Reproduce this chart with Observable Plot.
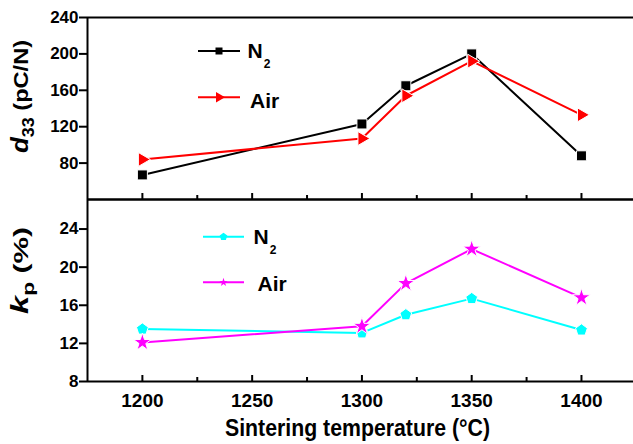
<!DOCTYPE html>
<html><head><meta charset="utf-8">
<script src="https://cdn.jsdelivr.net/npm/d3@7"></script>
<script src="https://cdn.jsdelivr.net/npm/@observablehq/plot@0.6"></script>
<style>
html,body{margin:0;padding:0;background:#fff;}
#chart{position:relative;width:633px;height:444px;overflow:hidden;background:#fff;}
#chart svg{position:absolute;left:0;overflow:visible;}
</style></head><body><div id="chart"></div>
<script>
const temps = [1200, 1300, 1320, 1350, 1400];
const d33N2 = [67, 123, 165, 200, 88];
const d33Air = [84, 107, 154, 192, 133];
const kpN2 = [13.5, 13.1, 15.0, 16.7, 13.4];
const kpAir = [12.1, 13.8, 18.3, 21.9, 16.8];
const xTicks = [1200, 1250, 1300, 1350, 1400];
const xMinorTicks = [1225, 1275, 1325, 1375];
const d33Ticks = [80, 120, 160, 200, 240];
const kpTicks = [8, 12, 16, 20, 24];

const W = 633, ML = 87;
const font = "'Liberation Sans', Arial, sans-serif";
const xDomain = [1175, 1423.7];

const triangleRight = {draw(ctx, size){ const s = Math.sqrt(size); ctx.moveTo(2*s/3,0); ctx.lineTo(-s/3,-0.58*s); ctx.lineTo(-s/3,0.58*s); ctx.closePath(); }};
const pentagon = {draw(ctx, size){ const R = Math.sqrt(size)/2; for (let i=0;i<5;i++){ const a=-Math.PI/2+i*2*Math.PI/5; const x=R*Math.cos(a), y=R*Math.sin(a); if(i) ctx.lineTo(x,y); else ctx.moveTo(x,y);} ctx.closePath(); }};

function panel(o) {
  const rows = (vals, s) => temps.map((t, i) => ({t, v: vals[i], s}));
  const dN2 = rows(o.n2, "N2"), dAir = rows(o.air, "Air");
  const innerH = o.height - o.mt - o.mb;
  return Plot.plot({
    width: W, height: o.height, marginTop: o.mt, marginBottom: o.mb, marginLeft: ML, marginRight: 0,
    style: {fontFamily: font, fontWeight: "bold", color: "#000", background: "transparent", overflow: "visible"},
    x: o.showX ? {domain: xDomain} : {domain: xDomain, axis: null},
    y: {domain: o.yDomain},
    marks: [
      Plot.axisY(o.yTicks, {tickSize: 8, tickPadding: 1, fontSize: 17, strokeWidth: 2, label: null, tickFormat: d => String(d)}),
      o.showX ? Plot.axisX(xTicks, {tickSize: 0, tickPadding: 12, fontSize: 19, label: null, tickFormat: d => String(d)}) : null,
      Plot.tickX(xTicks, {x: d => d, insetTop: innerH - 6, strokeWidth: 2}),
      Plot.tickX(xMinorTicks, {x: d => d, insetTop: innerH - 4, strokeWidth: 2}),
      Plot.ruleY([o.yDomain[0], o.yDomain[1]], {strokeWidth: 2}),
      Plot.ruleX([xDomain[0]], {strokeWidth: 2}),
      Plot.line(dN2, {x: "t", y: "v", stroke: o.n2Color, strokeWidth: 2}),
      Plot.dot(dN2, {x: "t", y: "v", symbol: o.n2Sym, r: o.n2R, fill: o.n2Color, stroke: "white", strokeWidth: 1}),
      Plot.line(dAir, {x: "t", y: "v", stroke: o.airColor, strokeWidth: 2}),
      Plot.dot(dAir, {x: "t", y: "v", symbol: o.airSym, r: o.airR, fill: o.airColor, stroke: "white", strokeWidth: 1})
    ]
  });
}

const chart = document.getElementById("chart");
const top1 = panel({height: 202, mt: 17, mb: 3, yDomain: [40, 240], yTicks: d33Ticks,
  n2: d33N2, air: d33Air, n2Color: "#000000", airColor: "#ff0000",
  n2Sym: "square", airSym: triangleRight, n2R: 5.64, airR: 6.77, showX: false});
top1.style.top = "0px";
chart.appendChild(top1);
const bot = panel({height: 248, mt: 3, mb: 63, yDomain: [8, 27.1], yTicks: kpTicks,
  n2: kpN2, air: kpAir, n2Color: "#00ffff", airColor: "#ff00ff",
  n2Sym: pentagon, airSym: "star", n2R: 7.0, airR: 5.6, showX: true});
bot.style.top = "196px";
chart.appendChild(bot);

function legend(svg, items, x0, x1) {
  const g = d3.select(svg).append("g").attr("font-family", font).attr("font-weight", "bold").attr("text-anchor", "start");
  for (const it of items) {
    g.append("line").attr("x1", x0).attr("x2", x1).attr("y1", it.y).attr("y2", it.y)
      .attr("stroke", it.color).attr("stroke-width", 2);
    g.append("path").attr("transform", `translate(${(x0 + x1) / 2},${it.y})`)
      .attr("d", d3.symbol(it.sym, it.size)()).attr("fill", it.color);
    const t = g.append("text").attr("x", it.tx).attr("y", it.by).attr("font-size", 21).attr("fill", "#000");
    if (it.label === "N2") {
      t.append("tspan").text("N");
      t.append("tspan").attr("dx", 1).attr("dy", 10).attr("font-size", 12).text("2");
    } else t.text(it.label);
  }
}
legend(top1, [
  {y: 51, by: 58.3, color: "#000000", sym: d3.symbolSquare, size: 49, label: "N2", tx: 247.5},
  {y: 97.3, by: 107.5, color: "#ff0000", sym: triangleRight, size: 81, label: "Air", tx: 250}
], 198, 240);
legend(bot, [
  {y: 236.7 - 196, by: 243.5 - 196, color: "#00ffff", sym: pentagon, size: 64, label: "N2", tx: 253.5},
  {y: 282.3 - 196, by: 290.7 - 196, color: "#ff00ff", sym: d3.symbolStar, size: 22, label: "Air", tx: 257.5}
], 203, 244);

// y titles
const yt1 = d3.select(top1).append("text")
  .attr("transform", "translate(28,96.5) rotate(-90)")
  .attr("text-anchor", "middle").attr("font-family", font).attr("font-weight", "bold")
  .attr("font-size", 21).attr("textLength", 113).attr("lengthAdjust", "spacingAndGlyphs");
yt1.append("tspan").attr("font-style", "italic").attr("font-size", 23).text("d");
yt1.append("tspan").attr("dy", 6).attr("font-size", 16).text("33");
yt1.append("tspan").attr("dy", -6).text(" (pC/N)");

const yt2 = d3.select(bot).append("text")
  .attr("transform", `translate(28,${270.5 - 196}) rotate(-90)`)
  .attr("text-anchor", "middle").attr("font-family", font).attr("font-weight", "bold")
  .attr("font-size", 21).attr("textLength", 87).attr("lengthAdjust", "spacingAndGlyphs");
yt2.append("tspan").attr("font-style", "italic").attr("font-size", 23).text("k");
yt2.append("tspan").attr("dy", 6).attr("font-size", 16).text("p");
yt2.append("tspan").attr("dy", -6).text(" (%)");

// x title
d3.select(bot).append("text")
  .attr("x", 357.5).attr("y", 436 - 196).attr("text-anchor", "middle")
  .attr("font-family", font).attr("font-weight", "bold").attr("font-size", 23)
  .attr("textLength", 265).attr("lengthAdjust", "spacingAndGlyphs")
  .text("Sintering temperature (°C)");
</script></body></html>
